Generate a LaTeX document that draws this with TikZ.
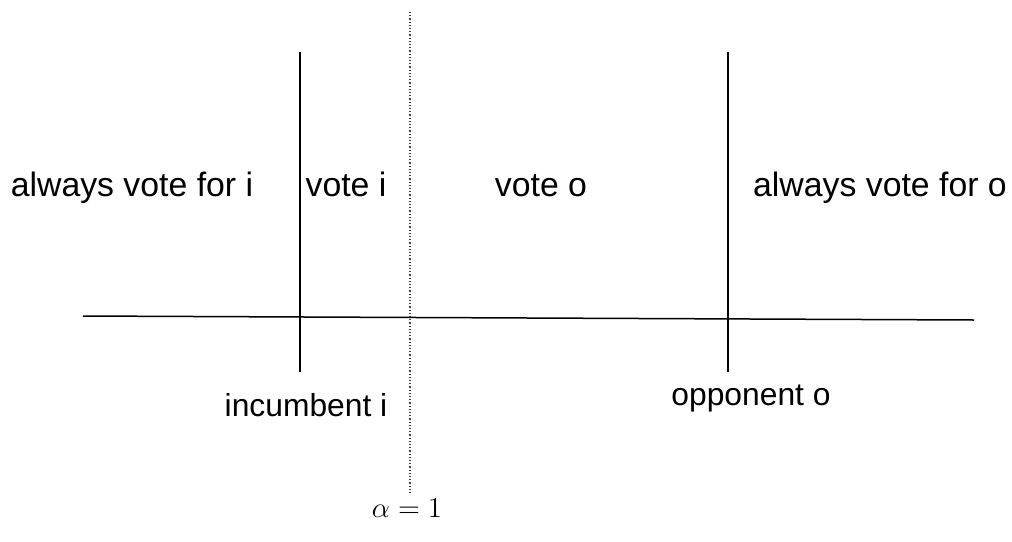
\documentclass[tikz,border=0pt]{standalone}
\usepackage{fontspec}
\setmainfont{Liberation Sans}
\begin{document}
\begin{tikzpicture}[x=0.5pt,y=-0.5pt,
  region text/.style={font=\fontsize{16.9}{20}\selectfont, anchor=base, inner sep=0pt},
  axis text/.style={font=\fontsize{15.9}{19}\selectfont, anchor=base, inner sep=0pt},
  region line/.style={line width=0.75pt},
  alpha line/.style={line width=0.6pt, densely dotted, black!75}]
  \useasboundingbox (0,0) rectangle (1012,541);

  % axis
  \coordinate (axisL) at (83,316);
  \coordinate (axisR) at (974,320);
  \draw[region line] (axisL) -- (axisR);

  % incumbent and opponent positions
  \coordinate (incTop) at (300,52);
  \coordinate (incBot) at (300,372);
  \coordinate (oppTop) at (728,52);
  \coordinate (oppBot) at (728,372);
  \draw[region line] (incTop) -- (incBot);
  \draw[region line] (oppTop) -- (oppBot);

  % alpha = 1 cut
  \coordinate (cutTop) at (410,12);
  \coordinate (cutBot) at (410,495);
  \draw[alpha line] (cutTop) -- (cutBot);

  % region labels
  \node[region text] (alwaysI) at (132,196) {always vote for i};
  \node[region text] (voteI)   at (346,196) {vote i};
  \node[region text] (voteO)   at (541,196) {vote o};
  \node[region text] (alwaysO) at (880,196) {always vote for o};
  \node[axis text] (incumbent) at (306,416) {incumbent i};
  \node[axis text] (opponent)  at (751,405) {opponent o};
  \node[anchor=base, inner sep=0pt, font=\fontsize{15}{18}\selectfont] (alphaOne) at (407,517) {$\alpha=1$};
\end{tikzpicture}
\end{document}
